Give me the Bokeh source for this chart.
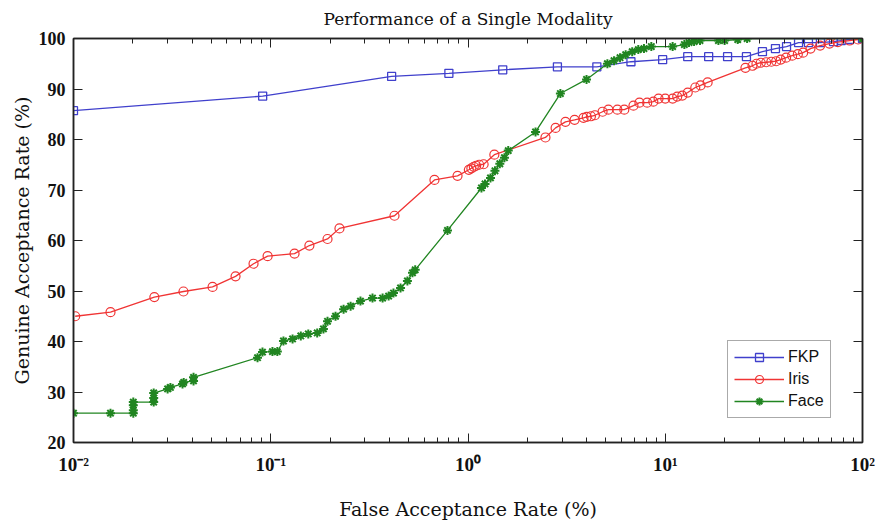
from bokeh.plotting import figure
from bokeh.models import FixedTicker, LogAxis, LinearAxis, Legend, LegendItem
from bokeh.embed import file_html
from bokeh.resources import INLINE

# ---------------- data ----------------
fkp_far = [0.01, 0.091, 0.41, 0.80, 1.5, 2.84, 4.5, 6.7, 9.7, 13.0, 16.6, 20.7, 25.8,
           31.1, 36.2, 41.2, 47.4, 53.2, 61.2, 71.3, 78.0, 86.0, 100.0]
fkp_gar = [85.7, 88.6, 92.5, 93.1, 93.8, 94.4, 94.4, 95.4, 95.8, 96.4, 96.4, 96.4, 96.4,
           97.4, 98.0, 98.4, 99.2, 99.2, 99.2, 99.4, 99.6, 99.8, 100.0]

iris_far = [0.0102, 0.0154, 0.0257, 0.0361, 0.0507, 0.0663, 0.0818, 0.0964, 0.132, 0.157,
            0.194, 0.223, 0.424, 0.676, 0.885, 1.01, 1.04, 1.07, 1.10, 1.14, 1.20, 1.36,
            2.47, 2.78, 3.12, 3.47, 3.85, 4.0, 4.2, 4.4, 4.81, 5.15, 5.72, 6.2, 6.9, 7.4,
            8.1, 8.7, 9.25, 10.0, 10.9, 11.5, 12.2, 13.0, 14.2, 15.1, 16.4, 25.5, 27.7,
            29.0, 30.5, 32.5, 34.5, 36.5, 38.5, 41.0, 44.0, 47.0, 50.0, 54.5, 61.0, 68.0,
            75.0, 86.0, 95.0]
iris_gar = [45.0, 45.8, 48.8, 49.9, 50.8, 52.9, 55.4, 56.9, 57.4, 59.0,
            60.3, 62.4, 64.9, 72.0, 72.8, 74.0, 74.3, 74.6, 74.8, 75.0, 75.1, 77.0,
            80.4, 82.3, 83.5, 83.9, 84.3, 84.5, 84.6, 84.8, 85.5, 85.9, 85.9, 85.9, 86.7, 87.3,
            87.3, 87.5, 88.1, 88.1, 88.1, 88.5, 88.7, 89.3, 90.3, 90.7, 91.3, 94.2, 94.6,
            95.0, 95.2, 95.3, 95.4, 95.5, 95.8, 96.2, 96.6, 96.9, 97.2, 98.0, 98.6, 99.0,
            99.3, 99.6, 99.8]

face_far = [0.01, 0.0154, 0.0201, 0.0201, 0.0201, 0.0201, 0.0255, 0.0255, 0.0255, 0.0300,
            0.0310, 0.0357, 0.0362, 0.0406, 0.0406, 0.0857, 0.0908, 0.102, 0.108, 0.116,
            0.129, 0.142, 0.155, 0.172, 0.185, 0.194, 0.213, 0.234, 0.254, 0.285, 0.328,
            0.369, 0.396, 0.419, 0.455, 0.493, 0.523, 0.54, 0.787, 1.17, 1.22, 1.30, 1.37,
            1.45, 1.53, 1.6, 2.2, 2.94, 3.99, 5.09, 5.5, 5.9, 6.3, 6.8, 7.3, 7.8, 8.5,
            10.9, 12.5, 13.2, 14.0, 15.0, 18.6, 20.0, 23.3, 26.0, 100.0]
face_gar = [25.8, 25.8, 25.8, 26.4, 27.4, 28.0, 28.0, 28.8, 29.8, 30.6,
            30.9, 31.6, 31.9, 32.2, 32.9, 36.8, 37.9, 38.0, 38.0, 40.1,
            40.5, 41.1, 41.5, 41.7, 42.5, 44.0, 45.0, 46.4, 47.0, 48.0, 48.6,
            48.6, 49.0, 49.6, 50.6, 52.0, 53.6, 54.2, 62.0, 70.4, 71.2, 72.4, 73.8,
            75.2, 76.4, 77.8, 81.5, 89.1, 91.9, 95.0, 95.6, 96.2, 96.8, 97.4, 97.8, 98.0, 98.4,
            98.4, 98.8, 99.2, 99.4, 99.6, 99.6, 99.6, 99.8, 100.0, 100.0]

title_text = "Performance of a Single Modality"
x_ticks = [0.01, 0.1, 1, 10, 100]
x_tick_labels = ["10\u207b\u00b2", "10\u207b\u00b9", "10\u2070", "10\u00b9", "10\u00b2"]
x_minor_mantissas = [2, 3, 4, 5, 6, 7, 8, 9]
y_ticks = [20, 30, 40, 50, 60, 70, 80, 90, 100]

# ---------------- styling ----------------
BLUE = "#4040cc"
RED = "#f03434"
GREEN = "#218521"
SERIF = "DejaVu Serif"
TICKFONT = "Liberation Serif"
INK = "#111111"

x_minor = [m * t for t in x_ticks[:-1] for m in x_minor_mantissas]

p = figure(width=879, height=524, x_axis_type="log", x_range=(0.01, 100), y_range=(20, 100),
           output_backend="svg", toolbar_location=None,
           min_border_left=73, min_border_right=17, min_border_top=38, min_border_bottom=82,
           title=title_text)
p.title.align = "center"
p.title.vertical_align = "top"
p.title.text_font = SERIF
p.title.text_font_style = "normal"
p.title.text_font_size = "17px"
p.title.text_color = INK
p.title.standoff = 16

p.xgrid.visible = False
p.ygrid.visible = False
p.outline_line_color = "#222222"
p.outline_line_width = 1.5
p.background_fill_color = "white"
p.border_fill_color = "white"

# lines + markers
r1l = p.line(fkp_far, fkp_gar, line_color=BLUE, line_width=1.3)
r1m = p.scatter(fkp_far, fkp_gar, marker="square", size=8, line_color=BLUE, fill_color=None, line_width=1.3)
r2l = p.line(iris_far, iris_gar, line_color=RED, line_width=1.3)
r2m = p.scatter(iris_far, iris_gar, marker="circle", size=9, line_color=RED, fill_color=None, line_width=1.2)
r3l = p.line(face_far, face_gar, line_color=GREEN, line_width=1.3)
r3m = p.scatter(face_far, face_gar, marker="asterisk", size=9, line_color=GREEN, line_width=2)

# axes
def style_axis(ax, labels=True):
    ax.axis_line_color = "#222222"
    ax.axis_line_width = 1.5
    ax.major_tick_in = 9
    ax.major_tick_out = 0
    ax.minor_tick_in = 5
    ax.minor_tick_out = 0
    ax.major_tick_line_color = "#222222"
    ax.minor_tick_line_color = "#222222"
    ax.major_label_text_font = TICKFONT
    ax.major_label_text_font_style = "bold"
    if labels:
        ax.major_label_text_font_size = "18px"
        ax.major_label_text_color = INK
    else:
        ax.major_label_text_font_size = "2px"
        ax.major_label_text_color = None
        ax.major_label_standoff = 0

xa = p.xaxis[0]
xa.ticker = FixedTicker(ticks=x_ticks, minor_ticks=x_minor)
xa.major_label_overrides = {t: l for t, l in zip(x_ticks, x_tick_labels)}
style_axis(xa)
xa.major_label_text_font_size = "19px"
xa.major_label_standoff = 11
xa.axis_label = "False Acceptance Rate (%)"
xa.axis_label_text_font = SERIF
xa.axis_label_text_font_style = "normal"
xa.axis_label_text_font_size = "19px"
xa.axis_label_text_color = INK
xa.axis_label_standoff = 20

ya = p.yaxis[0]
ya.ticker = FixedTicker(ticks=y_ticks)
style_axis(ya)
ya.major_label_standoff = 8
ya.axis_label = "Genuine Acceptance Rate (%)"
ya.axis_label_text_font = SERIF
ya.axis_label_text_font_style = "normal"
ya.axis_label_text_font_size = "19px"
ya.axis_label_text_color = INK
ya.axis_label_standoff = 3

top = LogAxis(ticker=FixedTicker(ticks=x_ticks, minor_ticks=x_minor))
style_axis(top, labels=False)
p.add_layout(top, "above")

right = LinearAxis(ticker=FixedTicker(ticks=y_ticks))
style_axis(right, labels=False)
p.add_layout(right, "right")

legend = Legend(items=[LegendItem(label="FKP", renderers=[r1l, r1m]),
                       LegendItem(label="Iris", renderers=[r2l, r2m]),
                       LegendItem(label="Face", renderers=[r3l, r3m])],
                location=(654, 24))
legend.label_text_font = "Liberation Sans"
legend.label_text_font_size = "16px"
legend.label_text_color = INK
legend.glyph_width = 50
legend.glyph_height = 20
legend.label_height = 20
legend.spacing = 2
legend.padding = 6
legend.margin = 0
legend.label_standoff = 4
legend.border_line_color = "#555555"
legend.border_line_width = 1.5
legend.background_fill_alpha = 1
p.add_layout(legend, "center")

open("out.html", "w").write(file_html(p, INLINE))
